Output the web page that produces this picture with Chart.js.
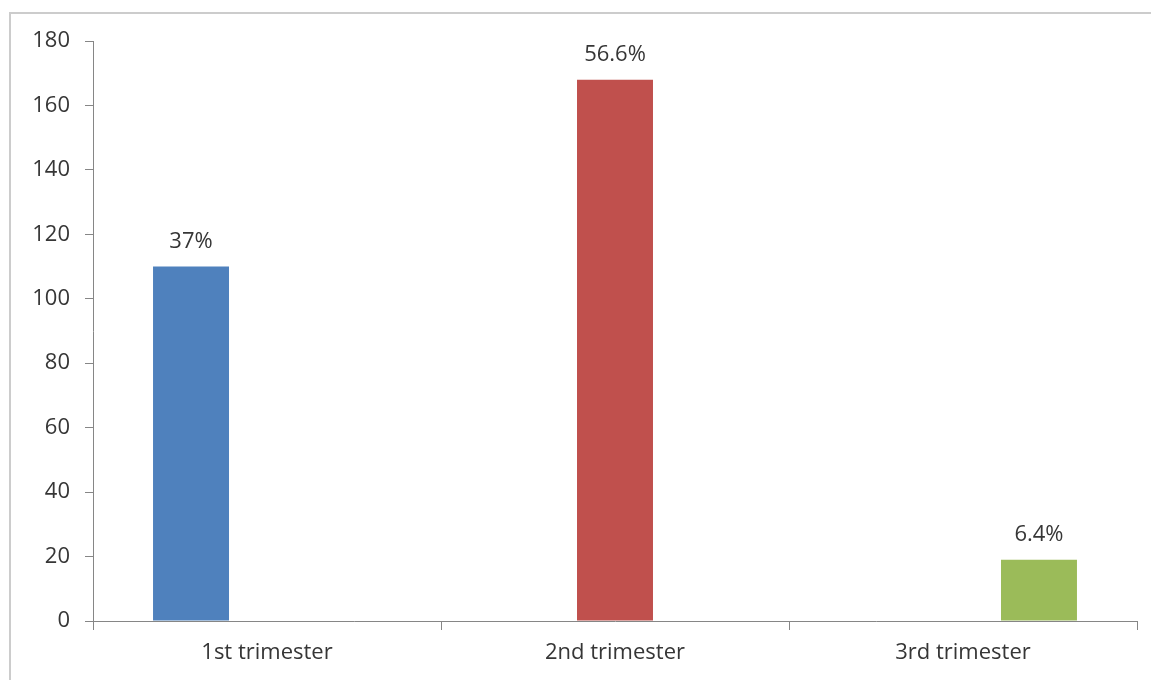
<!DOCTYPE html>
<html>
<head>
<meta charset="utf-8">
<script src="https://cdn.jsdelivr.net/npm/chart.js@4/dist/chart.umd.min.js"></script>
<style>
  html, body { margin: 0; padding: 0; background: #fff; }
  #wrap { width: 1151px; height: 680px; }
</style>
</head>
<body>
<div id="wrap"><canvas id="myChart" width="1151" height="680"></canvas></div>
<script>
const categories = ["1st trimester", "2nd trimester", "3rd trimester"];
const counts = [110, 168, 19];
const percentLabels = ["37%", "56.6%", "6.4%"];
const barColors = ["#4F81BD", "#C0504D", "#9BBB59"];
const yTicks = [0, 20, 40, 60, 80, 100, 120, 140, 160, 180];

const axisGray = "#868686";
const textColor = "#363636";
const fontFamily = "'Open Sans', 'Liberation Sans', sans-serif";

// one dataset per category so each bar keeps its own slot in the group
const datasets = categories.map((cat, i) => ({
  label: cat,
  data: categories.map((c, j) => (j === i ? counts[i] : null)),
  backgroundColor: barColors[i],
  pctLabel: percentLabels[i],
  catIndex: i,
}));

const frame = {
  id: "frame",
  beforeDraw(chart) {
    const ctx = chart.ctx;
    ctx.save();
    ctx.strokeStyle = "#cccccc";
    ctx.lineWidth = 2;
    ctx.beginPath();
    ctx.moveTo(10, 680);
    ctx.lineTo(10, 13);
    ctx.lineTo(1151, 13);
    ctx.stroke();
    ctx.restore();
  },
};

const barLabels = {
  id: "barLabels",
  afterDatasetsDraw(chart) {
    const ctx = chart.ctx;
    ctx.save();
    ctx.font = "22px " + fontFamily;
    ctx.fillStyle = textColor;
    ctx.textAlign = "center";
    ctx.textBaseline = "alphabetic";
    chart.data.datasets.forEach((ds, i) => {
      const bar = chart.getDatasetMeta(i).data[ds.catIndex];
      ctx.fillText(ds.pctLabel, bar.x, bar.y - 19);
    });
    ctx.restore();
  },
};

new Chart(document.getElementById("myChart"), {
  type: "bar",
  data: { labels: categories, datasets: datasets },
  options: {
    responsive: false,
    animation: false,
    layout: { padding: { left: 0, right: 14, top: 41, bottom: 0 } },
    datasets: {
      bar: { categoryPercentage: 0.655, barPercentage: 1.0 },
    },
    plugins: {
      legend: { display: false },
      tooltip: { enabled: false },
    },
    scales: {
      x: {
        grid: {
          offset: true,
          drawOnChartArea: false,
          drawTicks: true,
          tickLength: 9,
          color: axisGray,
        },
        border: { display: true, color: axisGray },
        ticks: {
          color: textColor,
          font: { family: fontFamily, size: 22 },
          padding: 10,
        },
        afterFit(scale) {
          scale.height = 59;
        },
      },
      y: {
        min: 0,
        max: 180,
        afterBuildTicks(scale) {
          scale.ticks = yTicks.map((v) => ({ value: v }));
        },
        grid: {
          drawOnChartArea: false,
          drawTicks: true,
          tickLength: 8,
          color: axisGray,
        },
        border: { display: true, color: axisGray },
        ticks: {
          color: textColor,
          font: { family: fontFamily, size: 22 },
          padding: 15,
        },
        afterFit(scale) {
          scale.width = 93;
        },
      },
    },
  },
  plugins: [frame, barLabels],
});
</script>
</body>
</html>
